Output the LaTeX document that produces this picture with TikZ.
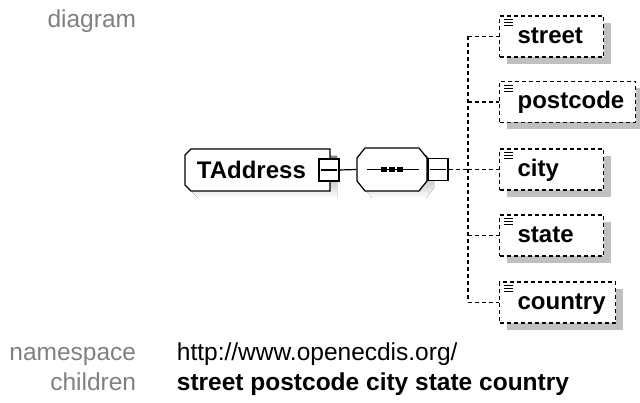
\documentclass[tikz,border=0pt]{standalone}
\usepackage{fontspec}
\setmainfont{Liberation Sans}
\usetikzlibrary{positioning,shadows}
\definecolor{labelgray}{HTML}{808080}
\definecolor{shade}{HTML}{C0C0C0}

\begin{document}
\begin{tikzpicture}[x=1pt,y=-1pt,line width=1.2pt,font=\fontsize{24}{28}\selectfont]
\tikzset{minusbox/.style={draw,fill=white,minimum width=20pt,minimum height=22pt,inner sep=0pt},
  elembox/.style={draw,dash pattern=on 4pt off 3pt,fill=white,minimum height=41pt,inner xsep=4pt,inner ysep=0pt,text height=18pt,text depth=4pt,text width=#1-8pt,align=left,font=\fontsize{24}{28}\selectfont\bfseries,drop shadow={shadow xshift=7pt,shadow yshift=-7pt,fill=shade,opacity=1}},
  link/.style={draw,dash pattern=on 4pt off 3pt},
  caption/.style={text=labelgray,font=\fontsize{24.5}{28}\selectfont}}
\useasboundingbox (0,0) rectangle (640,403);
% left labels
\node[caption,anchor=base east] (diag) at (140,28) {diagram};
\node[caption,anchor=base east] (ns) at (140,360) {namespace};
\node[caption,anchor=base east] (ch) at (140,390) {children};
\node[anchor=base west,font=\fontsize{24.5}{28}\selectfont] (nsval) at (173,360) {http://www.openecdis.org/};
\node[anchor=base west,font=\fontsize{24.5}{28}\selectfont\bfseries] (chval) at (173,390) {street postcode city state country};
% complex type TAddress
\fill[shade] (192,162) -- (198,156) -- (337,156) -- (337,198) -- (198,198) -- (192,192) -- cycle;
\draw[fill=white] (185,155) -- (191,149) -- (330,149) -- (330,191) -- (191,191) -- (185,185) -- cycle;
\node[anchor=base west,font=\fontsize{24}{28}\selectfont\bfseries] (taddr) at (193,178.5) {TAddress};
\node[minusbox] (tminus) at (329,170) {};
\draw ([xshift=3pt]tminus.west) -- ([xshift=-3pt]tminus.east);
% sequence
\fill[shade] (364,165) -- (372,155) -- (426,155) -- (434,165) -- (434,188) -- (426,198) -- (372,198) -- (364,188) -- cycle;
\draw[fill=white] (357,158) -- (365,148) -- (419,148) -- (427,158) -- (427,181) -- (419,191) -- (365,191) -- (357,181) -- cycle;
\node[minimum width=70pt,minimum height=43pt,inner sep=0pt] (seq) at (392,169.5) {};
\draw ([xshift=11pt]seq.west) -- ([xshift=-9pt]seq.east);
\foreach \dx in {-8,0,8}
  \fill ([xshift=\dx pt]seq.center) +(-3,-2.5) rectangle +(3,2.5);
\node[minusbox] (sminus) at (438,169.5) {};
\draw ([xshift=3pt]sminus.west) -- ([xshift=-3pt]sminus.east);
\draw (tminus.east) -- (seq.west);
% children
\coordinate (trunk) at (468,169.5);
\node[elembox=104pt,anchor=west] (street) at (499,36.5) {\hspace*{14pt}street};
\node[elembox=136pt,anchor=west] (postcode) at (499,102) {\hspace*{14pt}postcode};
\node[elembox=104pt,anchor=west] (city) at (499,169.5) {\hspace*{14pt}city};
\node[elembox=104pt,anchor=west] (state) at (499,235.5) {\hspace*{14pt}state};
\node[elembox=116pt,anchor=west] (country) at (499,302.5) {\hspace*{14pt}country};
\draw[link] (sminus.east) -- (trunk);
\draw[link] (street.west -| trunk) -- (country.west -| trunk);
\foreach \n in {street,postcode,city,state,country}{
  \draw[link] (\n.west -| trunk) -- (\n.west);
  \foreach \k in {0,3,6}
    \draw[line width=1pt] ([xshift=5pt,yshift={-4.5pt-\k pt}]\n.north west) -- ++(9,0);
}
\end{tikzpicture}
\end{document}
